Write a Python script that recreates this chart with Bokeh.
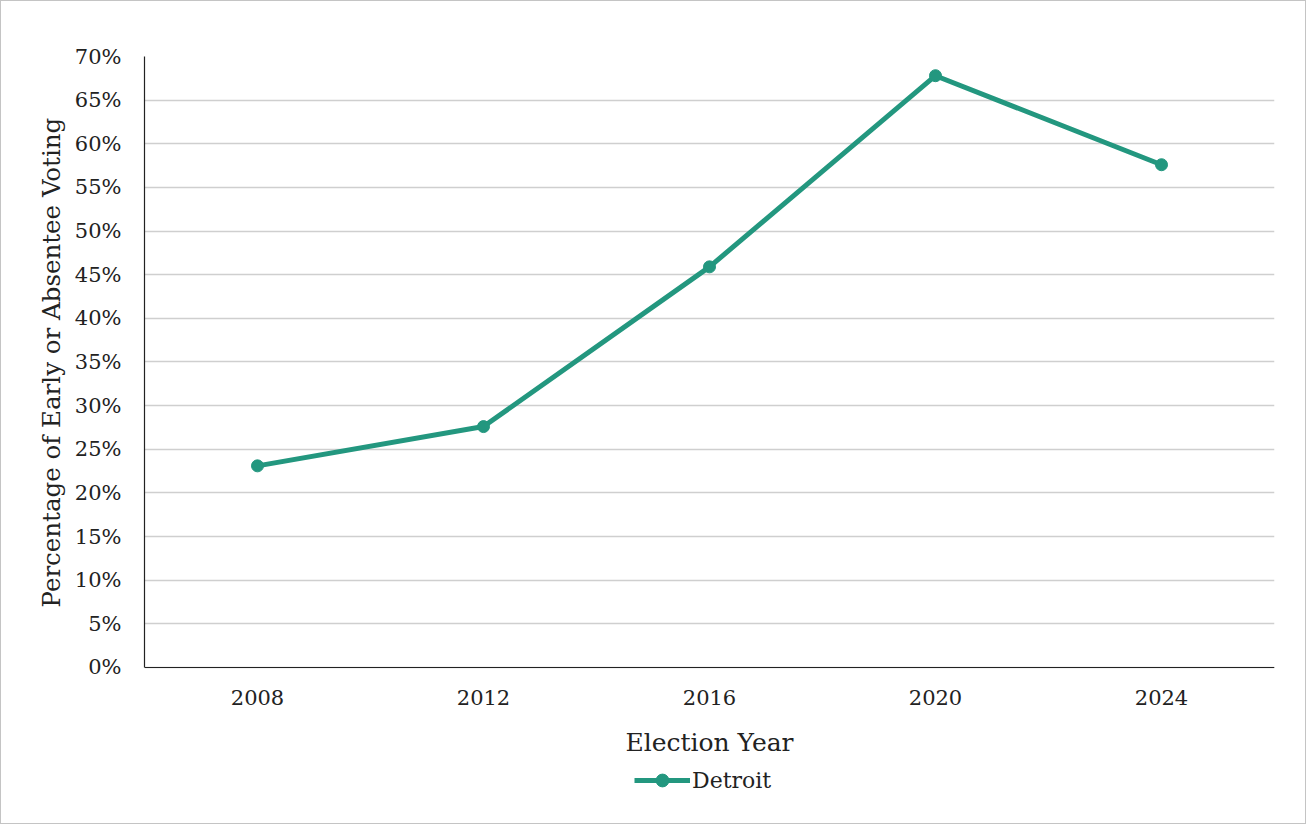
from bokeh.plotting import figure
from bokeh.models import ColumnDataSource, Legend, LegendItem, NumeralTickFormatter, FixedTicker, Title
from bokeh.embed import file_html
from bokeh.resources import INLINE

years = ["2008", "2012", "2016", "2020", "2024"]
detroit = [0.231, 0.276, 0.459, 0.678, 0.576]
y_ticks = [0.0, 0.05, 0.10, 0.15, 0.20, 0.25, 0.30, 0.35, 0.40, 0.45, 0.50, 0.55, 0.60, 0.65, 0.70]

FONT = "DejaVu Serif"
TEAL = "#23977f"

src = ColumnDataSource(dict(year=years, value=detroit))

# frame extends below the 0% line so the legend can sit under the x axis label
p = figure(x_range=years, y_range=(-0.165, 0.70), width=1306, height=824,
           output_backend="svg", toolbar_location=None,
           min_border_left=143, min_border_right=33, min_border_top=55, min_border_bottom=14,
           styles={"border": "1px solid #c4c4c4"})

p.outline_line_color = None
p.background_fill_color = "white"
p.border_fill_color = "white"

ln = p.line("year", "value", source=src, line_color=TEAL, line_width=5)
sc = p.scatter("year", "value", source=src, size=12, fill_color=TEAL, line_color=TEAL)

p.yaxis.ticker = FixedTicker(ticks=y_ticks)
p.yaxis.formatter = NumeralTickFormatter(format="0%")
p.yaxis.bounds = (0, 0.70)
p.ygrid.grid_line_color = "#cfcfcf"
p.ygrid.grid_line_width = 1.3
p.xgrid.grid_line_color = None
p.xaxis.fixed_location = 0

for ax in (p.xaxis[0], p.yaxis[0]):
    ax.axis_line_color = "#222222"
    ax.axis_line_width = 1.2
    ax.major_tick_line_color = None
    ax.minor_tick_line_color = None
    ax.major_tick_out = 0
    ax.major_tick_in = 0
    ax.major_label_text_font = FONT
    ax.major_label_text_font_size = "21px"
    ax.major_label_text_color = "#222222"
    ax.axis_label_text_font = FONT
    ax.axis_label_text_font_style = "normal"
    ax.axis_label_text_color = "#222222"

p.yaxis.major_label_standoff = 23

# y axis title, placed over the 0%-70% span only
ytitle = Title(text="Percentage of Early or Absentee Voting", align="left", offset=204,
               standoff=12, text_font=FONT, text_font_size="24.5px",
               text_font_style="normal", text_color="#222222")
p.add_layout(ytitle, "left")

p.xaxis.axis_label = "Election Year"
p.xaxis.axis_label_text_font_size = "25px"
p.xaxis.major_label_standoff = 23
p.xaxis.axis_label_standoff = 19

legend = Legend(items=[LegendItem(label="Detroit", renderers=[ln, sc])],
                location=(490, 15), orientation="horizontal",
                label_text_font=FONT, label_text_font_size="22px",
                label_text_color="#222222", border_line_color=None,
                background_fill_alpha=0,
                glyph_width=56, glyph_height=32, padding=4, margin=0, label_standoff=2)
p.add_layout(legend, "center")

open("out.html", "w").write(file_html(p, INLINE))
